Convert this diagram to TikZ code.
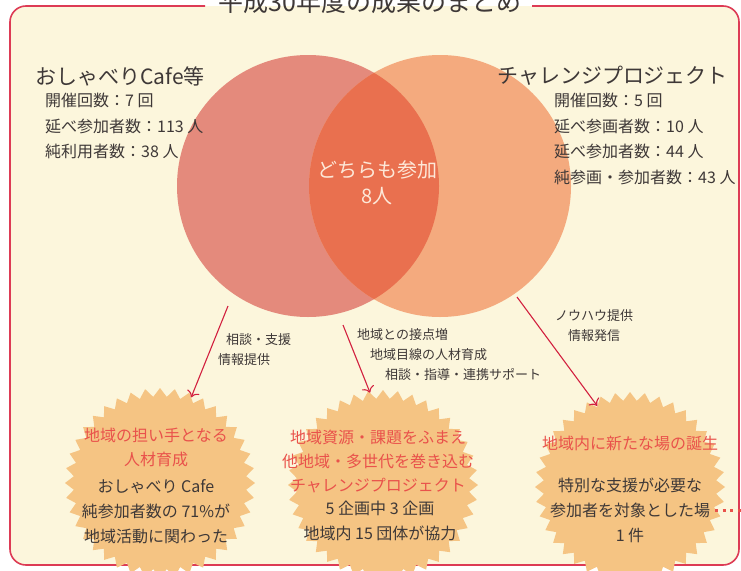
\documentclass[tikz,border=0pt]{standalone}
\usepackage{fontspec}
\setmainfont{Noto Sans CJK JP}
\usetikzlibrary{shapes.geometric,arrows.meta}

\definecolor{framered}{HTML}{DD3B55}
\definecolor{paper}{HTML}{FCF6DC}
\definecolor{cafecol}{HTML}{E48A7C}
\definecolor{chalcol}{HTML}{F4AA7E}
\definecolor{bothcol}{HTML}{E9704F}
\definecolor{burstcol}{HTML}{F5C483}
\definecolor{ink}{HTML}{3E3837}
\definecolor{hilite}{HTML}{E9524B}
\definecolor{arrowred}{HTML}{D2203F}
\definecolor{pale}{HTML}{FDE8D8}

\tikzset{
  head/.style={font=\fontsize{21}{26}\selectfont, text=ink, inner sep=0pt, anchor=west},
  stat/.style={font=\fontsize{16}{25.5}\selectfont, text=ink, align=left, inner sep=0pt, anchor=north west},
  note/.style={font=\fontsize{13}{20}\selectfont, text=ink, align=left, inner sep=0pt, anchor=north west},
  burst/.style={star, star points=40, star point ratio=1.1, fill=burstcol, minimum size=190pt, inner sep=0pt},
  hot/.style={font=\fontsize{16}{24}\selectfont, text=hilite, align=center, inner sep=0pt},
  body/.style={font=\fontsize{16}{25}\selectfont, text=ink, align=center, inner sep=0pt},
  link/.style={arrowred, line width=1.1pt, -{To[length=6pt,width=13pt]}},
}

\begin{document}
\begin{tikzpicture}[x=1pt, y=-1pt]
    \useasboundingbox (0,0) rectangle (741,570);
    \fill[white] (0,0) rectangle (741,570);

    % frame
    \fill[paper, rounded corners=16] (10,6) rectangle (739,565);
    \draw[framered, line width=1.6pt, rounded corners=16] (205,6) -- (10,6) -- (10,565) -- (739,565) -- (739,6) -- (532,6);
    \node[font=\fontsize{25}{30}\selectfont, text=ink, inner sep=0pt] (title) at (370,2) {平成30年度の成果のまとめ};

    % circles
    \def\rad{131}
    \fill[cafecol] (308,186) circle (\rad);
    \fill[chalcol] (440,186) circle (\rad);
    \begin{scope}
        \clip (308,186) circle (\rad);
        \fill[bothcol] (440,186) circle (\rad);
    \end{scope}
    \node[font=\fontsize{20}{26}\selectfont, text=pale, align=center, inner sep=0pt] (both) at (377,183) {どちらも参加\\8人};

    \node[head] (cafe) at (35,76) {おしゃべりCafe等};
    \node[stat] (cafestat) at (45,93) {開催回数：7 回\\延べ参加者数：113 人\\純利用者数：38 人};
    \node[head] (chal) at (497,76) {チャレンジプロジェクト};
    \node[stat] (chalstat) at (554,93) {開催回数：5 回\\延べ参画者数：10 人\\延べ参加者数：44 人\\純参画・参加者数：43 人};

    % results
    \node[burst] (b1) at (160,483) {};
    \node[burst] (b2) at (383,485) {};
    \node[burst] (b3) at (630,487) {};

    \node[hot] (b1hot) at (156,447) {地域の担い手となる\\人材育成};
    \node[body] (b1body) at (156,512) {おしゃべり Cafe\\純参加者数の 71\%が\\地域活動に関わった};
    \node[hot] (b2hot) at (378,461) {地域資源・課題をふまえ\\他地域・多世代を巻き込む\\チャレンジプロジェクト};
    \node[body] (b2body) at (380,521) {5 企画中 3 企画\\地域内 15 団体が協力};
    \node[hot] (b3hot) at (630,443) {地域内に新たな場の誕生};
    \node[body] (b3body) at (630,510) {特別な支援が必要な\\参加者を対象とした場\\1 件};

    % arrows
    \coordinate (a1) at (228,306);
    \coordinate (a2) at (343,325);
    \coordinate (a3) at (517,297);
    \draw[link] (a1) -- (b1.70);
    \draw[link] (a2) -- (b2.98);
    \draw[link] (a3) -- (b3.112);

    \node[note] (n1) at (218,333) {\hspace{8pt}相談・支援\\情報提供};
    \node[note] (n2) at (357,328) {地域との接点増\\\hspace{13pt}地域目線の人材育成\\\hspace{28pt}相談・指導・連携サポート};
    \node[note] (n3) at (555,309) {ノウハウ提供\\\hspace{13pt}情報発信};

    \coordinate (offpage) at (741,510);
    \draw[hilite, line width=3pt, dash pattern=on 3pt off 4.5pt] ([xshift=5pt]b3body.east) -- (offpage);
\end{tikzpicture}
\end{document}
